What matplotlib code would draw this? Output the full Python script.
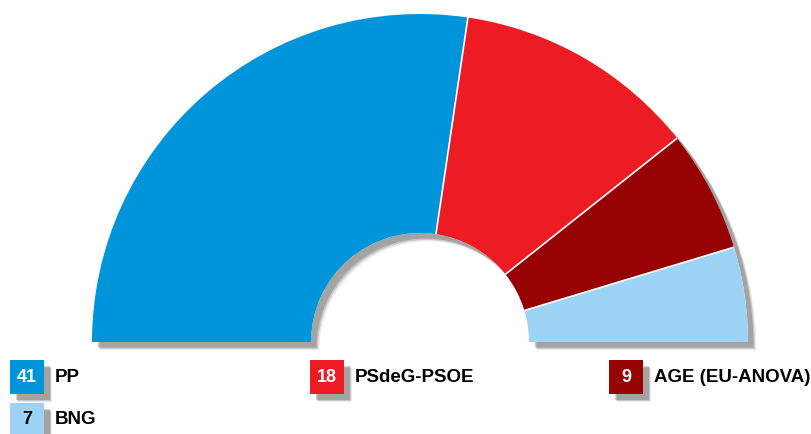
import matplotlib
matplotlib.use("Agg")
import numpy as np
import matplotlib.pyplot as plt
from matplotlib.patches import Wedge, Rectangle
import matplotlib.patheffects as pe

parties = ["PP", "PSdeG-PSOE", "AGE (EU-ANOVA)", "BNG"]
seats = [41, 18, 9, 7]
colors = ["#0095DA", "#ED1C24", "#970303", "#9DD4F5"]
num_colors = ["white", "white", "white", "black"]

W, H = 812, 434
fig = plt.figure(figsize=(W / 100, H / 100), dpi=100)
ax = fig.add_axes([0, 0, 1, 1])
ax.set_xlim(0, W)
ax.set_ylim(0, H)
ax.axis("off")

cx, cy = 420, H - 342
R, r = 328, 109
total = sum(seats)

shadow = [pe.SimplePatchShadow(offset=(4, -4), shadow_rgbFace="#000000", alpha=0.18),
          pe.SimplePatchShadow(offset=(5, -5), shadow_rgbFace="#000000", alpha=0.15),
          pe.SimplePatchShadow(offset=(6, -6), shadow_rgbFace="#000000", alpha=0.08),
          pe.Normal()]

# shadow under the whole semicircle
sh = Wedge((cx, cy), R, 0, 180, width=R - r, facecolor="white", edgecolor="none")
sh.set_path_effects(shadow)
ax.add_patch(sh)

start = 180.0
bounds = []
for p, s, c in zip(parties, seats, colors):
    ext = s / total * 180.0
    w = Wedge((cx, cy), R, start - ext, start, width=R - r,
              facecolor=c, edgecolor="none", antialiased=True)
    ax.add_patch(w)
    start -= ext
    bounds.append(start)

for a in bounds[:-1]:
    t = np.deg2rad(a)
    ax.plot([cx + r * np.cos(t), cx + R * np.cos(t)],
            [cy + r * np.sin(t), cy + R * np.sin(t)],
            color="white", linewidth=1.2, solid_capstyle="butt")

# legend
legend_pos = [(10, 360), (310, 360), (609, 360), (10, 403)]
box = 34
for (x, y), p, s, c, nc in zip(legend_pos, parties, seats, colors, num_colors):
    rect = Rectangle((x, H - y - box), box, box, facecolor=c, edgecolor="none")
    rect.set_path_effects(shadow)
    ax.add_patch(rect)
    ax.text(x + box / 2, H - y - box / 2, str(s), color=nc, fontsize=13,
            fontweight="bold", family="Liberation Sans", ha="center", va="center")
    ax.text(x + box + 11, H - y - box / 2, p, color="black", fontsize=13.5,
            fontweight="bold", family="Liberation Sans", ha="left", va="center")

fig.savefig("out.png", dpi=100)
